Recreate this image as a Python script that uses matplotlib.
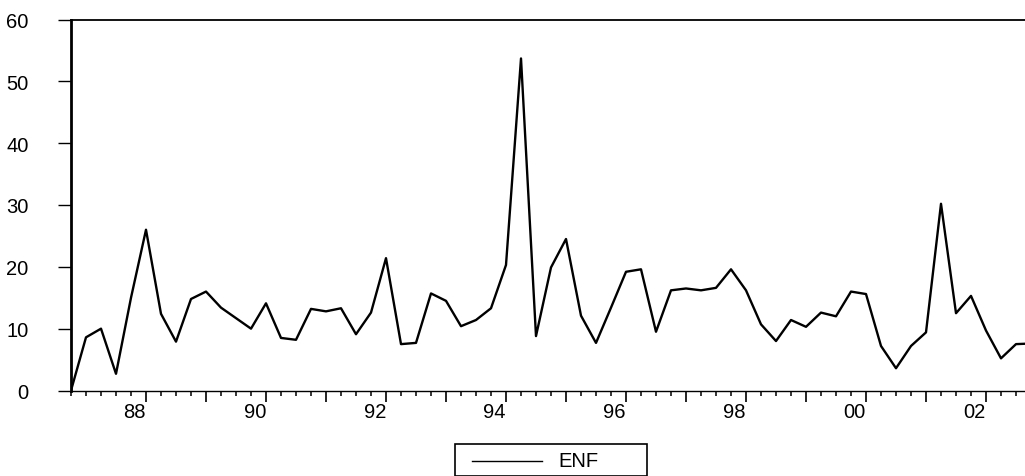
import numpy as np
import matplotlib
matplotlib.use("Agg")
import matplotlib.pyplot as plt
from matplotlib.ticker import MultipleLocator
from matplotlib.patches import Rectangle
from matplotlib.lines import Line2D

plt.rcParams["font.family"] = ["Liberation Sans", "DejaVu Sans"]

# quarterly ENF series, first observation sits on the y axis
enf = [0.0, 8.6, 10.0, 2.7, 15.0, 26.0, 12.4, 7.9, 14.8, 16.0,
       13.4, 11.7, 10.0, 14.1, 8.5, 8.2, 13.2, 12.8, 13.3, 9.1,
       12.6, 21.4, 7.5, 7.7, 15.7, 14.5, 10.4, 11.4, 13.3, 20.3,
       53.7, 8.8, 19.9, 24.5, 12.1, 7.7, 13.4, 19.2, 19.6, 9.5,
       16.2, 16.5, 16.2, 16.6, 19.6, 16.2, 10.7, 8.0, 11.4, 10.3,
       12.6, 12.0, 16.0, 15.6, 7.2, 3.6, 7.2, 9.4, 30.2, 12.5,
       15.3, 9.7, 5.2, 7.5, 7.6]
start = 1986.75
t = start + 0.25 * np.arange(len(enf))

years = list(range(1988, 2003))
year_labels = [f"{y % 100:02d}" if y % 2 == 0 else "" for y in years]
yticks = [0, 10, 20, 30, 40, 50, 60]

W, H = 1025, 477
fig = plt.figure(figsize=(W / 100, H / 100), dpi=100)
ax = fig.add_axes([71 / W, 1 - 391.5 / H, 1 - 71 / W, (391.5 - 20.5) / H])

ax.plot(t, enf, color="black", lw=1.7)

ax.set_xlim(start, start + (W - 71) / 60)
ax.set_ylim(0, 60)

ax.set_xticks(years)
ax.set_xticklabels(year_labels, ha="right")
ax.xaxis.set_minor_locator(MultipleLocator(0.25))
ax.tick_params(axis="x", which="major", direction="out", length=8, width=1.2,
               pad=0, labelsize=14.5)
ax.tick_params(axis="x", which="minor", direction="out", length=3.6, width=1.1)

ax.set_yticks(yticks)
ax.tick_params(axis="y", which="major", direction="out", length=9.5, width=1.0,
               pad=21, labelsize=14.5)

ax.spines["right"].set_visible(False)
ax.spines["left"].set_linewidth(2.0)
ax.spines["top"].set_linewidth(1.3)
ax.spines["bottom"].set_linewidth(1.0)

# legend box under the plot, its bottom edge at the picture edge
fig.add_artist(Rectangle((455 / W, 0.5 / H), 192 / W, 31.5 / H, transform=fig.transFigure,
                         fill=False, edgecolor="black", lw=1.2))
fig.add_artist(Line2D([472 / W, 542 / W], [1 - 462 / H] * 2, transform=fig.transFigure,
                      color="black", lw=1.0))
fig.text(558 / W, 1 - 462 / H, "ENF", ha="left", va="center", fontsize=14.5)

fig.savefig("out.png", dpi=100)
